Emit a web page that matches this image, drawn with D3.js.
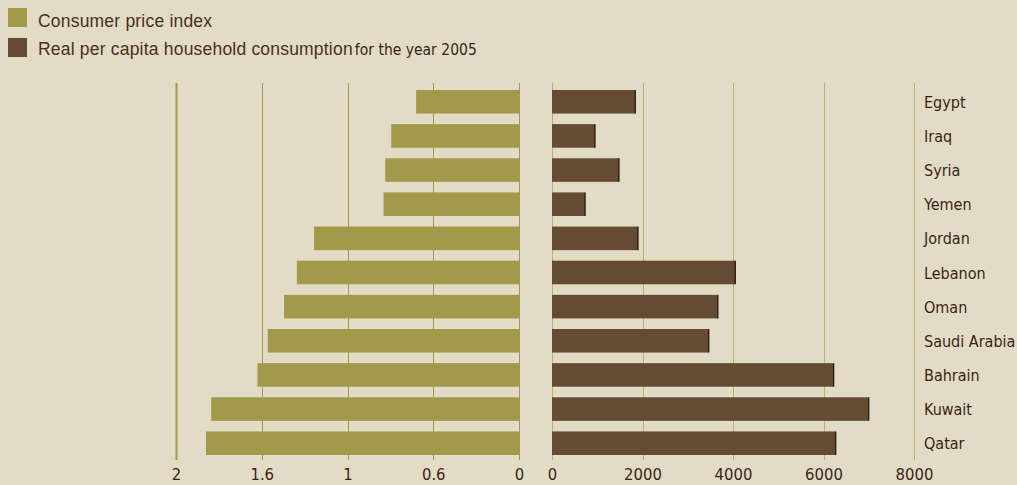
<!DOCTYPE html>
<html>
<head>
<meta charset="utf-8">
<script src="https://cdn.jsdelivr.net/npm/d3@7"></script>
<style>
  body { margin: 0; background: #e2dcc6; }
  svg { display: block; }
  .lab { font-family: "DejaVu Sans Condensed", "Liberation Sans Narrow", sans-serif; font-size: 16px; fill: #3b1f16; }
  .leg { font-family: "Liberation Sans", Arial, sans-serif; font-size: 17.5px; letter-spacing: 0.2px; fill: #4a2f22; }
</style>
</head>
<body>
<svg id="chart" width="1017" height="485"></svg>
<script>
// data
let countries = ["Egypt", "Iraq", "Syria", "Yemen", "Jordan", "Lebanon", "Oman", "Saudi Arabia", "Bahrain", "Kuwait", "Qatar"];
let cpi = [0.60, 0.745, 0.78, 0.79, 1.195, 1.295, 1.37, 1.465, 1.525, 1.795, 1.825];
let consumption = [1840, 950, 1480, 730, 1900, 4050, 3665, 3465, 6225, 7000, 6270];
// left tick labels as printed (evenly spaced)
let cpiTicks = [2, 1.5, 1, 0.5, 0];
let cpiTickLabels = ["2", "1.6", "1", "0.6", "0"];
let consTicks = [0, 2000, 4000, 6000, 8000];

let chart = d3.select("#chart");
let cpiColor = "#a2994b";
let consColor = "#664b33";

// scales
let y = d3.scaleBand()
    .domain(countries)
    .range([90, 455])
    .paddingInner(0.31)
    .paddingOuter(0);

let xl = d3.scaleLinear()
    .domain([0, 2])
    .range([519, 176]);

let xr = d3.scaleLinear()
    .domain([0, 8000])
    .range([552, 914]);

let gridTop = 83, gridBottom = 460;

// left gridlines
chart.selectAll("line.gl")
    .data(cpiTicks)
    .enter()
    .append("line")
    .attr("x1", d => Math.round(xl(d)) + 0.5)
    .attr("x2", d => Math.round(xl(d)) + 0.5)
    .attr("y1", gridTop)
    .attr("y2", gridBottom)
    .attr("stroke", cpiColor)
    .attr("stroke-width", d => d === 2 ? 2 : 1);

// right gridlines
chart.selectAll("line.gr")
    .data(consTicks)
    .enter()
    .append("line")
    .attr("x1", d => Math.round(xr(d)) + 0.5)
    .attr("x2", d => Math.round(xr(d)) + 0.5)
    .attr("y1", gridTop)
    .attr("y2", gridBottom)
    .attr("stroke", "#b8b26e")
    .attr("stroke-width", 1);

// CPI bars
chart.selectAll("rect.cpi")
    .data(countries)
    .enter()
    .append("rect")
    .attr("x", (d, i) => xl(cpi[i]))
    .attr("y", d => y(d))
    .attr("width", (d, i) => xl(0) - xl(cpi[i]))
    .attr("height", y.bandwidth())
    .attr("fill", cpiColor);

// consumption bars
chart.selectAll("rect.cons")
    .data(countries)
    .enter()
    .append("rect")
    .attr("x", xr(0))
    .attr("y", d => y(d))
    .attr("width", (d, i) => xr(consumption[i]) - xr(0))
    .attr("height", y.bandwidth())
    .attr("fill", consColor);

// dark right edge on consumption bars
chart.selectAll("line.edge")
    .data(countries)
    .enter()
    .append("line")
    .attr("x1", (d, i) => xr(consumption[i]))
    .attr("x2", (d, i) => xr(consumption[i]))
    .attr("y1", d => y(d))
    .attr("y2", d => y(d) + y.bandwidth())
    .attr("stroke", "#1a1008")
    .attr("stroke-width", 1.2);

// country labels
chart.selectAll("text.country")
    .data(countries)
    .enter()
    .append("text")
    .attr("class", "lab")
    .attr("x", 924)
    .attr("y", d => y(d) + y.bandwidth() / 2 + 6)
    .text(d => d);

// axes
let leftAxis = d3.axisBottom(xl)
    .tickValues(cpiTicks)
    .tickFormat((d, i) => cpiTickLabels[i])
    .tickSize(0)
    .tickPadding(0);
let la = chart.append("g")
    .attr("transform", "translate(0,480)")
    .call(leftAxis);

let rightAxis = d3.axisBottom(xr)
    .tickValues(consTicks)
    .tickFormat(d => d)
    .tickSize(0)
    .tickPadding(0);
let ra = chart.append("g")
    .attr("transform", "translate(0,480)")
    .call(rightAxis);

[la, ra].forEach(function(g) {
    g.select(".domain").remove();
    g.selectAll("text")
        .attr("class", "lab")
        .style("font-size", "16.5px")
        .attr("dy", 0)
        .attr("y", 0);
});

// legend
let legend = [
    { name: "Consumer price index", color: cpiColor },
    { name: "Real per capita household consumption", color: consColor }
];

chart.selectAll("rect.leg")
    .data(legend)
    .enter()
    .append("rect")
    .attr("x", 8)
    .attr("y", (d, i) => 8 + i * 30)
    .attr("width", 19)
    .attr("height", 19)
    .attr("fill", d => d.color);

let legText = chart.selectAll("text.legt")
    .data(legend)
    .enter()
    .append("text")
    .attr("class", "leg")
    .attr("x", 38)
    .attr("y", (d, i) => 27 + i * 27.5)
    .text(d => d.name);

// suffix in narrow font after the second legend entry
let second = legText.nodes()[1];
let end = 38 + second.getComputedTextLength();
chart.append("text")
    .attr("class", "lab")
    .attr("x", end + 2)
    .attr("y", 54.5)
    .style("font-size", "15.5px")
    .text("for the year 2005");
</script>
</body>
</html>
